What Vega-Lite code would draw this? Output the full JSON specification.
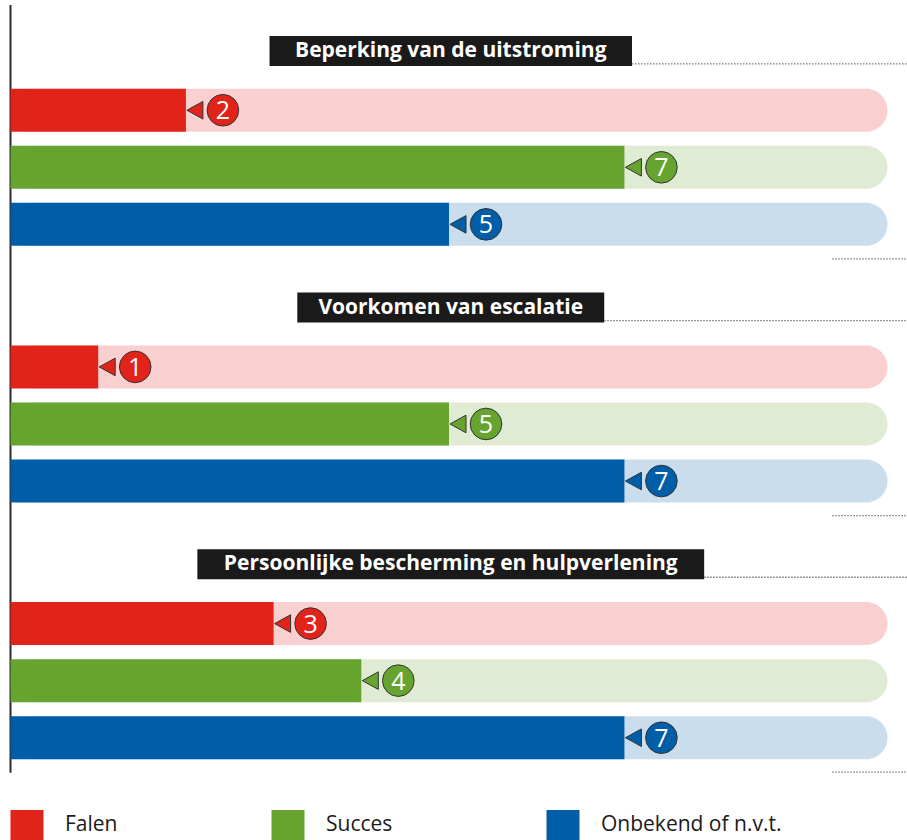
{
  "$schema": "https://vega.github.io/schema/vega-lite/v6.json",
  "width": 907,
  "height": 840,
  "autosize": "none",
  "padding": 0,
  "background": "white",
  "config": {"view": {"stroke": null}, "font": "Open Sans"},
  "datasets": {
    "bars": [
      {"group": "Beperking van de uitstroming", "outcome": "Falen", "value": 2},
      {"group": "Beperking van de uitstroming", "outcome": "Succes", "value": 7},
      {"group": "Beperking van de uitstroming", "outcome": "Onbekend of n.v.t.", "value": 5},
      {"group": "Voorkomen van escalatie", "outcome": "Falen", "value": 1},
      {"group": "Voorkomen van escalatie", "outcome": "Succes", "value": 5},
      {"group": "Voorkomen van escalatie", "outcome": "Onbekend of n.v.t.", "value": 7},
      {"group": "Persoonlijke bescherming en hulpverlening", "outcome": "Falen", "value": 3},
      {"group": "Persoonlijke bescherming en hulpverlening", "outcome": "Succes", "value": 4},
      {"group": "Persoonlijke bescherming en hulpverlening", "outcome": "Onbekend of n.v.t.", "value": 7}
    ],
    "titles": [
      {"title": "Beperking van de uitstroming"},
      {"title": "Voorkomen van escalatie"},
      {"title": "Persoonlijke bescherming en hulpverlening"}
    ]
  },
  "layer": [
    {
      "data": {"values": [{}]},
      "mark": {"type": "rule", "color": "#2b2b2b", "strokeWidth": 2},
      "encoding": {
        "x": {"datum": 0, "type": "quantitative", "scale": {"domain": [-0.1197, 10.222], "nice": false, "zero": false}, "axis": null},
        "y": {"datum": -0.8442, "type": "quantitative", "scale": {"domain": [-0.8442, 13.701], "nice": false, "zero": false, "reverse": true}, "axis": null},
        "y2": {"datum": 12.61}
      }
    },
    {
      "data": {"name": "bars"},
      "transform": [
        {"calculate": "indexof(['Beperking van de uitstroming','Voorkomen van escalatie','Persoonlijke bescherming en hulpverlening'], datum.group)", "as": "gi"},
        {"calculate": "indexof(['Falen','Succes','Onbekend of n.v.t.'], datum.outcome)", "as": "oi"},
        {"calculate": "datum.gi * 4.498 + datum.oi + 1", "as": "y"}
      ],
      "layer": [
        {
          "mark": {"type": "bar", "orient": "horizontal", "size": 43, "cornerRadiusEnd": 21.5, "opacity": 0.21},
          "encoding": {
            "x": {"datum": 0, "type": "quantitative"},
            "x2": {"datum": 10},
            "y": {"field": "y", "type": "quantitative"},
            "color": {
              "field": "outcome", "type": "nominal",
              "scale": {"domain": ["Falen", "Succes", "Onbekend of n.v.t."], "range": ["#e2231a", "#67a32f", "#005ea8"]},
              "legend": {
                "orient": "none", "legendX": 12, "legendY": 810, "direction": "horizontal", "title": null,
                "symbolType": "M-1.1,-1H1.1V1H-1.1Z", "symbolSize": 900, "symbolStrokeWidth": 0, "symbolOpacity": 1,
                "labelFont": "Open Sans", "labelFontSize": 21, "labelColor": "#1a1a1a", "labelOffset": 23,
                "columnPadding": 153, "labelLimit": 400, "padding": 0
              }
            }
          }
        },
        {
          "mark": {"type": "bar", "orient": "horizontal", "size": 43},
          "encoding": {
            "x": {"field": "value", "type": "quantitative"},
            "x2": {"datum": 0},
            "y": {"field": "y", "type": "quantitative"},
            "color": {"field": "outcome", "type": "nominal"}
          }
        },
        {
          "mark": {"type": "point", "shape": "M-1,0L1,-1.1L1,1.1Z", "size": 256, "filled": true, "opacity": 1, "stroke": "#333333", "strokeWidth": 1, "xOffset": 9},
          "encoding": {
            "x": {"field": "value", "type": "quantitative"},
            "y": {"field": "y", "type": "quantitative"},
            "color": {"field": "outcome", "type": "nominal"}
          }
        },
        {
          "mark": {"type": "point", "shape": "circle", "size": 1000, "filled": true, "opacity": 1, "stroke": "#333333", "strokeWidth": 1, "xOffset": 37},
          "encoding": {
            "x": {"field": "value", "type": "quantitative"},
            "y": {"field": "y", "type": "quantitative"},
            "color": {"field": "outcome", "type": "nominal"}
          }
        },
        {
          "mark": {"type": "text", "color": "white", "fontSize": 25, "align": "center", "baseline": "middle", "xOffset": 37, "dy": 1, "font": "Open Sans"},
          "encoding": {
            "x": {"field": "value", "type": "quantitative"},
            "y": {"field": "y", "type": "quantitative"},
            "text": {"field": "value", "type": "quantitative"}
          }
        }
      ]
    },
    {
      "data": {"name": "titles"},
      "transform": [
        {"calculate": "indexof(['Beperking van de uitstroming','Voorkomen van escalatie','Persoonlijke bescherming en hulpverlening'], datum.title)", "as": "gi"},
        {"calculate": "datum.gi * 4.498 - 0.04", "as": "ty"},
        {"calculate": "datum.gi * 4.498 + 3", "as": "by"},
        {"calculate": "0.294 + 0.0633 * length(datum.title)", "as": "half"},
        {"calculate": "5.02 - datum.half", "as": "bx1"},
        {"calculate": "5.02 + datum.half", "as": "bx2"}
      ],
      "layer": [
        {
          "mark": {"type": "bar", "orient": "horizontal", "size": 30, "color": "#1a1a1a"},
          "encoding": {
            "x": {"field": "bx1", "type": "quantitative"},
            "x2": {"field": "bx2"},
            "y": {"field": "ty", "type": "quantitative"}
          }
        },
        {
          "mark": {"type": "text", "color": "white", "fontSize": 21, "fontWeight": "bold", "align": "center", "baseline": "middle", "dy": 0, "font": "Open Sans"},
          "encoding": {
            "x": {"datum": 5.02, "type": "quantitative"},
            "y": {"field": "ty", "type": "quantitative"},
            "text": {"field": "title", "type": "nominal"}
          }
        },
        {
          "mark": {"type": "rule", "color": "#777777", "strokeWidth": 1.3, "strokeDash": [1.5, 1.5], "yOffset": 13},
          "encoding": {
            "x": {"field": "bx2", "type": "quantitative"},
            "x2": {"datum": 10.222},
            "y": {"field": "ty", "type": "quantitative"}
          }
        },
        {
          "mark": {"type": "rule", "color": "#777777", "strokeWidth": 1.3, "strokeDash": [1.5, 1.5], "yOffset": 34.5},
          "encoding": {
            "x": {"datum": 9.37, "type": "quantitative"},
            "x2": {"datum": 10.222},
            "y": {"field": "by", "type": "quantitative"}
          }
        }
      ]
    }
  ]
}
